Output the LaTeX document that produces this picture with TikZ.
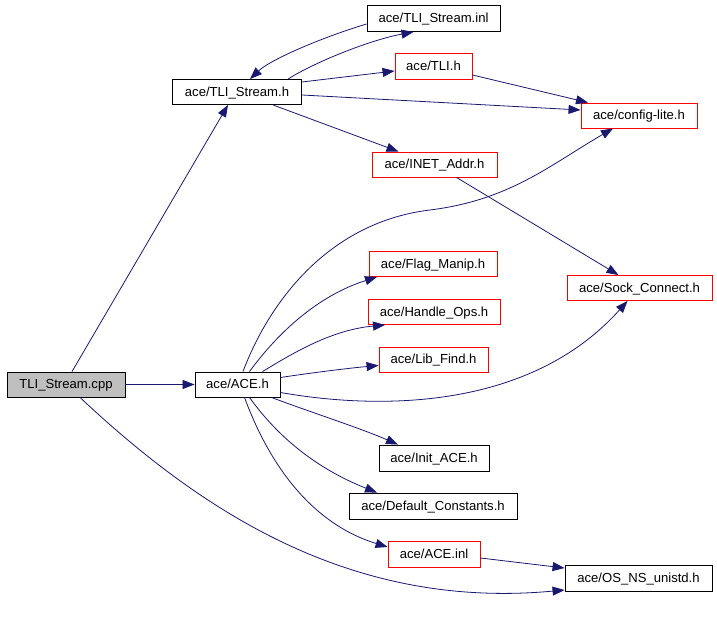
\documentclass[tikz,border=0pt]{standalone}
\usepackage{fontspec}
\setmainfont{Liberation Sans}
\usetikzlibrary{arrows.meta}
\definecolor{edgeblue}{HTML}{191970}
\definecolor{boxgray}{HTML}{BFBFBF}
\begin{document}
\begin{tikzpicture}[x=1pt,y=-1pt,
  every node/.style={font=\fontsize{13.1}{15}\selectfont},
  file/.style={draw=black, line width=0.9pt, fill=white, minimum height=25pt, inner sep=0pt, text height=9.4pt, text depth=1pt},
  redfile/.style={file, draw=red},
  mainfile/.style={file, fill=boxgray},
  dep/.style={draw=edgeblue, line width=0.8pt, -{Triangle[length=12pt,width=9pt,fill=edgeblue]}},
]
\useasboundingbox (0,0) rectangle (717,621);
% nodes
\node[mainfile, minimum width=118pt] (cpp) at (66,384.5) {TLI\_Stream.cpp};
\node[file, minimum width=85pt] (ace) at (237.5,384.5) {ace/ACE.h};
\node[file, minimum width=129pt] (tlsh) at (237,92) {ace/TLI\_Stream.h};
\node[file, minimum width=133pt, minimum height=26pt] (inl) at (433.5,18.5) {ace/TLI\_Stream.inl};
\node[redfile, minimum width=77pt, minimum height=26pt] (tlih) at (433.5,66) {ace/TLI.h};
\node[redfile, minimum width=116pt] (cfg) at (639,115.5) {ace/config-lite.h};
\node[redfile, minimum width=125pt] (inet) at (434.5,164.5) {ace/INET\_Addr.h};
\node[redfile, minimum width=128pt] (flag) at (433,264) {ace/Flag\_Manip.h};
\node[redfile, minimum width=132pt] (hops) at (434,312) {ace/Handle\_Ops.h};
\node[redfile, minimum width=109pt] (lib) at (433.5,359.5) {ace/Lib\_Find.h};
\node[redfile, minimum width=145pt] (sock) at (639.5,288) {ace/Sock\_Connect.h};
\node[file, minimum width=110pt, minimum height=26pt] (init) at (434,458) {ace/Init\_ACE.h};
\node[file, minimum width=168pt, minimum height=26pt] (defc) at (433,506) {ace/Default\_Constants.h};
\node[redfile, minimum width=92pt, minimum height=26pt] (aceinl) at (434,554) {ace/ACE.inl};
\node[file, minimum width=147pt, minimum height=26pt] (osns) at (638.5,578) {ace/OS\_NS\_unistd.h};
% edges
\draw[dep] ([xshift=6pt]cpp.north) -- ([xshift=-9pt]tlsh.south);
\draw[dep] (cpp.east) -- (ace.west);
\draw[dep] ([xshift=14pt]cpp.south) .. controls (200,510) and (350,610) .. ([yshift=-12pt]osns.west);
\draw[dep] ([xshift=51pt]tlsh.north) .. controls (315,62) and (370,40) .. ([xshift=-20pt]inl.south);
\draw[dep] ([yshift=-5.5pt]inl.west) .. controls (320,38) and (270,60) .. ([xshift=13pt]tlsh.north);
\draw[dep] ([yshift=10pt]tlsh.east) -- ([yshift=-5pt]tlih.west);
\draw[dep] ([yshift=-3pt]tlsh.east) -- ([yshift=5.5pt]cfg.west);
\draw[dep] ([xshift=36pt]tlsh.south) -- ([xshift=-36pt]inet.north);
\draw[dep] ([yshift=-9pt]tlih.east) -- ([xshift=-51pt]cfg.north);
\draw[dep] ([xshift=22pt]inet.south) -- ([xshift=-21pt]sock.north);
\draw[dep] ([xshift=5.5pt]ace.north) .. controls (270,300) and (330,222) .. (430,210) .. controls (510,200) and (550,165) .. ([xshift=-26pt]cfg.south);
\draw[dep] ([xshift=12pt]ace.north) .. controls (280,330) and (320,295) .. ([xshift=-56pt]flag.south);
\draw[dep] ([xshift=25pt]ace.north) .. controls (290,355) and (330,330) .. ([xshift=-49pt]hops.south);
\draw[dep] ([yshift=7pt]ace.east) .. controls (310,373) and (350,368) .. ([yshift=-6pt]lib.west);
\draw[dep] ([yshift=-8pt]ace.east) .. controls (380,410) and (530,410) .. ([xshift=-12pt]sock.south);
\draw[dep] ([xshift=34pt]ace.south) .. controls (310,412) and (360,428) .. ([xshift=-36pt]init.north);
\draw[dep] ([xshift=12pt]ace.south) .. controls (280,440) and (320,470) .. ([xshift=-56pt]defc.north);
\draw[dep] ([xshift=7pt]ace.south) .. controls (262,445) and (300,520) .. ([yshift=7pt]aceinl.west);
\draw[dep] ([yshift=-4pt]aceinl.east) -- ([yshift=10pt]osns.west);
\end{tikzpicture}
\end{document}
